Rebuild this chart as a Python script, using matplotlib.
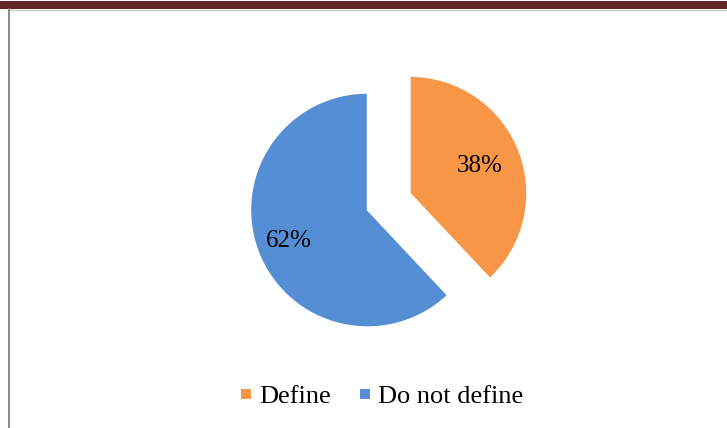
import numpy as np
import matplotlib
matplotlib.use("Agg")
import matplotlib.pyplot as plt
from matplotlib.patches import Rectangle
from matplotlib.lines import Line2D

labels = ["Define", "Do not define"]
shares = [38, 62]
colors = ["#F79646", "#558ED5"]
explode = [0.39, 0.0]
label_dist = [0.64, 0.72]

W, H = 727, 428
fig = plt.figure(figsize=(W / 100, H / 100), dpi=100)
plt.rcParams["font.family"] = ["Liberation Serif", "DejaVu Serif"]

# Pie axes covers the whole figure; limits chosen so one unit = 117 px
ax = fig.add_axes([0, 0, 1, 1])
r_px = 117.0
cx, cy = 367.5, 210.0
wedges, texts, autotexts = ax.pie(
    shares, colors=colors, explode=explode, startangle=90, counterclock=False,
    autopct="%1.0f%%", pctdistance=0.67,
    wedgeprops=dict(edgecolor="white", linewidth=1.0),
    textprops=dict(fontsize=18, color="black"),
)
# Percentage labels at a per-slice distance along each wedge's bisector
for w, t, d in zip(wedges, autotexts, label_dist):
    ang = np.deg2rad((w.theta1 + w.theta2) / 2)
    x0, y0 = w.center
    t.set_position((x0 + d * w.r * np.cos(ang), y0 + d * w.r * np.sin(ang)))

ax.set_xlim(-cx / r_px, (W - cx) / r_px)
ax.set_ylim(-(H - cy) / r_px, cy / r_px)
ax.set_aspect("auto")
ax.axis("off")

# Page frame: dark header band and thin grey rules
fig.patches.append(Rectangle((0, (H - 9) / H), 1, 8 / H, transform=fig.transFigure,
                             facecolor="#632523", edgecolor="none"))
fig.lines.append(Line2D([8.5 / W, 1], [(H - 9.5) / H] * 2, transform=fig.transFigure,
                        color="#c8c8c8", linewidth=1.0))
fig.lines.append(Line2D([8.5 / W] * 2, [0, (H - 9) / H], transform=fig.transFigure,
                        color="#808080", linewidth=1.3))

handles = [Line2D([], [], marker="s", linestyle="none", markersize=7.8,
                  markerfacecolor=c, markeredgewidth=0) for c in colors]
fig.legend(handles, labels, loc="center", bbox_to_anchor=(382 / W, (H - 396.5) / H),
           ncol=2, frameon=False, fontsize=19, handlelength=0.4,
           handletextpad=0.3, columnspacing=1.06)

fig.savefig("out.png", dpi=100)
